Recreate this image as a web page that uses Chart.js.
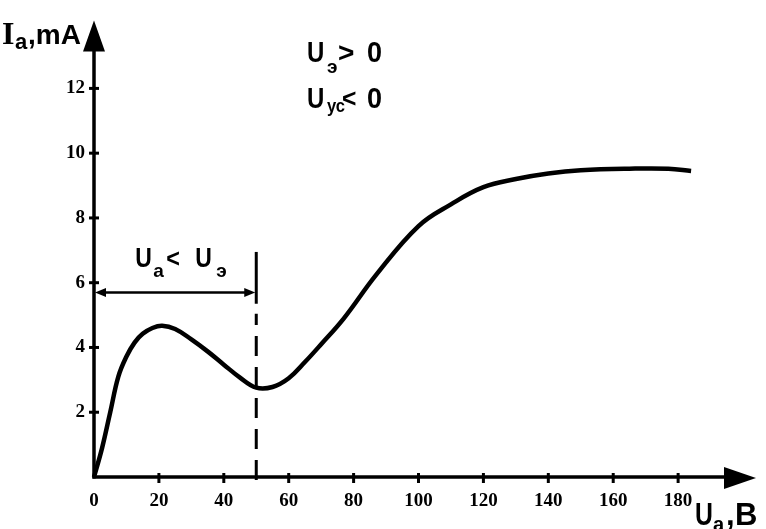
<!DOCTYPE html>
<html><head><meta charset="utf-8">
<script src="https://cdn.jsdelivr.net/npm/chart.js@4/dist/chart.umd.min.js"></script>
<style>html,body{margin:0;padding:0;background:#fff;overflow:hidden}</style>
</head><body>
<canvas id="c" width="766" height="529"></canvas>
<script>
// Anode voltage Ua (V) and anode current Ia (mA)
const voltage = [0, 2.5, 5, 7.5, 10, 12.5, 15, 18, 21, 25, 30, 35, 40, 45, 50, 55, 60, 65, 70, 77, 87, 100, 110, 120, 130, 140, 150, 165, 177, 184];
const current = [0, 0.9, 2.0, 3.1, 3.72, 4.15, 4.42, 4.6, 4.67, 4.57, 4.25, 3.88, 3.47, 3.07, 2.76, 2.78, 3.05, 3.55, 4.1, 4.9, 6.25, 7.75, 8.42, 8.95, 9.2, 9.37, 9.47, 9.52, 9.52, 9.45];
const xTicks = [0, 20, 40, 60, 80, 100, 120, 140, 160, 180];
const yTicks = [2, 4, 6, 8, 10, 12];
// boundary Ua = Uэ marker
const markerU = 50;
const markerTop = 6.95;
const markerSolidBottom = 5.35;
const arrowI = 5.7;

const SANS = '"Liberation Sans", Arial, sans-serif';
const SERIF = '"Liberation Serif", "Times New Roman", serif';

function txt(ctx, s, x, y, size, sx, family) {
  ctx.save();
  ctx.translate(x, y);
  ctx.scale(sx || 1, 1);
  ctx.font = 'bold ' + size + 'px ' + (family || SANS);
  ctx.fillText(s, 0, 0);
  ctx.restore();
}
function seg(ctx, x1, y1, x2, y2) { ctx.beginPath(); ctx.moveTo(x1, y1); ctx.lineTo(x2, y2); ctx.stroke(); }
function tri(ctx, pts) { ctx.beginPath(); ctx.moveTo(pts[0][0], pts[0][1]); ctx.lineTo(pts[1][0], pts[1][1]); ctx.lineTo(pts[2][0], pts[2][1]); ctx.closePath(); ctx.fill(); }

const annot = {
  id: 'annot',
  afterDraw(chart) {
    const { ctx, chartArea: ca, scales: { x, y } } = chart;
    const x0 = x.getPixelForValue(0), y0 = y.getPixelForValue(0);
    ctx.save();
    ctx.strokeStyle = '#000'; ctx.fillStyle = '#000';
    ctx.lineCap = 'butt';
    // axes
    ctx.lineWidth = 3.5;
    seg(ctx, x0, y0 + 1.5, x0, ca.top + 20);
    seg(ctx, x0 - 1.5, y0, ca.right - 20, y0);
    tri(ctx, [[x0, ca.top], [x0 - 11, ca.top + 31], [x0 + 11, ca.top + 31]]);
    tri(ctx, [[ca.right, y0 + 1], [ca.right - 32, y0 - 10], [ca.right - 32, y0 + 12]]);
    // tick marks
    ctx.lineWidth = 3;
    yTicks.forEach(v => { const p = y.getPixelForValue(v); seg(ctx, x0 - 5, p, x0 + 5, p); });
    xTicks.forEach(v => { if (v > 0) { const p = x.getPixelForValue(v); seg(ctx, p, y0 - 4, p, y0 + 6); } });
    // boundary marker
    const xm = x.getPixelForValue(markerU);
    const yTop = y.getPixelForValue(markerTop), ySolid = y.getPixelForValue(markerSolidBottom);
    ctx.lineWidth = 3;
    seg(ctx, xm, yTop, xm, ySolid);
    ctx.setLineDash([20, 11]);
    seg(ctx, xm, y0 + 3, xm, ySolid + 10);
    ctx.setLineDash([]);
    // double arrow
    const ya = y.getPixelForValue(arrowI);
    ctx.lineWidth = 2.5;
    seg(ctx, x0 + 6, ya, xm - 6, ya);
    tri(ctx, [[x0 + 1, ya], [x0 + 12, ya - 4.5], [x0 + 12, ya + 4.5]]);
    tri(ctx, [[xm - 1, ya], [xm - 12, ya - 4.5], [xm - 12, ya + 4.5]]);
    // texts
    ctx.textBaseline = 'alphabetic'; ctx.textAlign = 'left';
    const dx = (x0 + xm) / 2 - 172;
    txt(ctx, 'U', 132 + dx, 267, 28, 0.82);
    txt(ctx, 'a', 150 + dx, 277, 19, 1);
    txt(ctx, '<', 163 + dx, 267, 26, 0.9);
    txt(ctx, 'U', 192 + dx, 267, 28, 0.82);
    txt(ctx, 'э', 213 + dx, 277, 19, 1);

    txt(ctx, 'U', 307, 62, 30, 0.8);
    txt(ctx, 'э', 327, 73, 19, 1);
    txt(ctx, '>', 338, 62, 28, 1);
    txt(ctx, '0', 367, 62, 30, 0.9);
    txt(ctx, 'U', 307, 108, 30, 0.8);
    txt(ctx, 'ус', 327, 112, 18, 0.92);
    txt(ctx, '<', 342, 107, 26, 0.95);
    txt(ctx, '0', 367, 108, 30, 0.9);

    // axis titles
    txt(ctx, 'I', x0 - 92, 44, 32, 1, SERIF);
    txt(ctx, 'a', x0 - 79, 49, 22, 1);
    txt(ctx, ',mA', x0 - 66, 44, 28, 1);

    txt(ctx, 'U', 695, 525, 31, 0.8);
    txt(ctx, 'a', 713, 531, 20, 1);
    txt(ctx, ',', 726, 525, 31, 1);
    txt(ctx, 'B', 735, 525, 31, 1);
    ctx.restore();
  }
};

const tickFont = { family: SERIF, weight: 'bold', size: 19 };
new Chart(document.getElementById('c'), {
  type: 'line',
  data: {
    datasets: [{
      data: voltage.map((v, i) => ({ x: v, y: current[i] })),
      borderColor: '#000', borderWidth: 4.5, pointRadius: 0,
      tension: 0.4, fill: false, clip: false
    }]
  },
  options: {
    responsive: false, animation: false, devicePixelRatio: 1,
    layout: { padding: { top: 12, right: 10, left: 0, bottom: 0 } },
    plugins: { legend: { display: false }, tooltip: { enabled: false } },
    scales: {
      x: {
        type: 'linear', min: 0, max: 204,
        afterBuildTicks: s => { s.ticks = xTicks.map(v => ({ value: v })); },
        afterFit: s => { s.height = 52; },
        grid: { display: false, drawTicks: false }, border: { display: false },
        ticks: { font: tickFont, color: '#000', padding: 13, autoSkip: false, maxRotation: 0 }
      },
      y: {
        type: 'linear', min: 0, max: 14.1,
        afterBuildTicks: s => { s.ticks = yTicks.map(v => ({ value: v })); },
        afterFit: s => { s.width = 94; },
        grid: { display: false, drawTicks: false }, border: { display: false },
        ticks: { font: tickFont, color: '#000', padding: 9, autoSkip: false }
      }
    }
  },
  plugins: [annot]
});
</script>
</body></html>
